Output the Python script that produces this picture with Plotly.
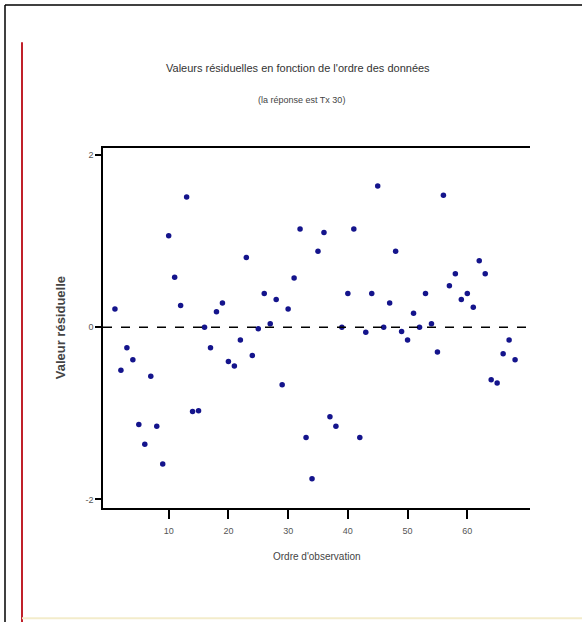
import plotly.graph_objects as go

# Data
observation_order = list(range(1, 69))
residuals = [
    0.21, -0.50, -0.24, -0.38, -1.13, -1.36, -0.57, -1.15, -1.59, 1.06,
    0.58, 0.25, 1.51, -0.98, -0.97, 0.00, -0.24, 0.18, 0.28, -0.40,
    -0.45, -0.15, 0.81, -0.33, -0.02, 0.39, 0.04, 0.32, -0.67, 0.21,
    0.57, 1.14, -1.28, -1.76, 0.88, 1.10, -1.04, -1.15, 0.00, 0.39,
    1.14, -1.28, -0.06, 0.39, 1.64, 0.00, 0.28, 0.88, -0.05, -0.15,
    0.16, 0.00, 0.39, 0.04, -0.29, 1.53, 0.48, 0.62, 0.32, 0.39,
    0.23, 0.77, 0.62, -0.61, -0.65, -0.31, -0.15, -0.38,
]
x_ticks = [10, 20, 30, 40, 50, 60]
y_ticks = [-2, 0, 2]

title_text = "Valeurs résiduelles en fonction de l'ordre des données"
subtitle_text = "(la réponse est Tx 30)"
x_title = "Ordre d'observation"
y_title = "Valeur résiduelle"

FONT = "Liberation Sans, Arial, sans-serif"

fig = go.Figure()
fig.add_trace(go.Scatter(
    x=observation_order, y=residuals, mode="markers",
    marker=dict(color="#14148c", size=5.5, symbol="circle"),
    showlegend=False, hoverinfo="x+y",
))

fig.add_hline(y=0, line=dict(color="black", width=1.5, dash="dash"))

# page decorations (frame + red margin line)
shapes = [
    dict(type="line", xref="paper", yref="paper", x0=-0.2295, x1=1.13, y0=1.397, y1=1.397,
         line=dict(color="black", width=1.5)),
    dict(type="line", xref="paper", yref="paper", x0=-0.2295, x1=-0.2295, y0=1.397, y1=-0.33,
         line=dict(color="black", width=1.5)),
    dict(type="line", xref="paper", yref="paper", x0=-0.1897, x1=-0.1897, y0=1.294, y1=-0.33,
         line=dict(color="#c0202a", width=2)),
    dict(type="line", xref="paper", yref="paper", x0=-0.1897, x1=1.13, y0=-0.306, y1=-0.306,
         line=dict(color="#f3eccb", width=2)),
]
for s in shapes:
    fig.add_shape(**s)

fig.update_layout(
    width=582, height=622,
    margin=dict(l=103, r=52, t=148, b=114),
    paper_bgcolor="white", plot_bgcolor="white",
    font=dict(family=FONT, color="#444444"),
    annotations=[
        dict(text=title_text, xref="paper", yref="paper", x=0.457, y=1.222,
             xanchor="center", yanchor="middle",
             showarrow=False, font=dict(size=11, color="#333333", family=FONT)),
        dict(text=subtitle_text, xref="paper", yref="paper", x=0.464, y=1.133,
             xanchor="center", yanchor="middle",
             showarrow=False, font=dict(size=9, color="#444444", family=FONT)),
        dict(text=x_title, xref="paper", yref="paper", x=0.5, y=-0.136,
             xanchor="center", yanchor="middle",
             showarrow=False, font=dict(size=10, color="#444444", family=FONT)),
        dict(text="<b>" + y_title + "</b>", xref="paper", yref="paper", x=-0.10, y=0.5,
             xanchor="center", yanchor="middle", textangle=-90,
             showarrow=False, font=dict(size=13, color="#444444", family=FONT)),
    ],
)

fig.update_xaxes(
    range=[-1.0, 70.5], tickvals=x_ticks, ticktext=[str(v) for v in x_ticks],
    showline=True, linecolor="black", linewidth=1.5, mirror=True,
    ticks="outside", ticklen=9, tickwidth=1.5, tickcolor="black",
    ticklabelstandoff=4,
    showgrid=False, zeroline=False,
    tickfont=dict(size=9, color="#555555"),
)
fig.update_yaxes(
    range=[-2.10, 2.08], tickvals=y_ticks, ticktext=[str(v) for v in y_ticks],
    showline=True, linecolor="black", linewidth=1.5, mirror=False,
    ticks="outside", ticklen=6, tickwidth=1.5, tickcolor="black",
    showgrid=False, zeroline=False,
    tickfont=dict(size=9, color="#555555"),
)

fig.write_html("out.html", config={"displayModeBar": False},
               post_script="document.body.style.margin='0';")
